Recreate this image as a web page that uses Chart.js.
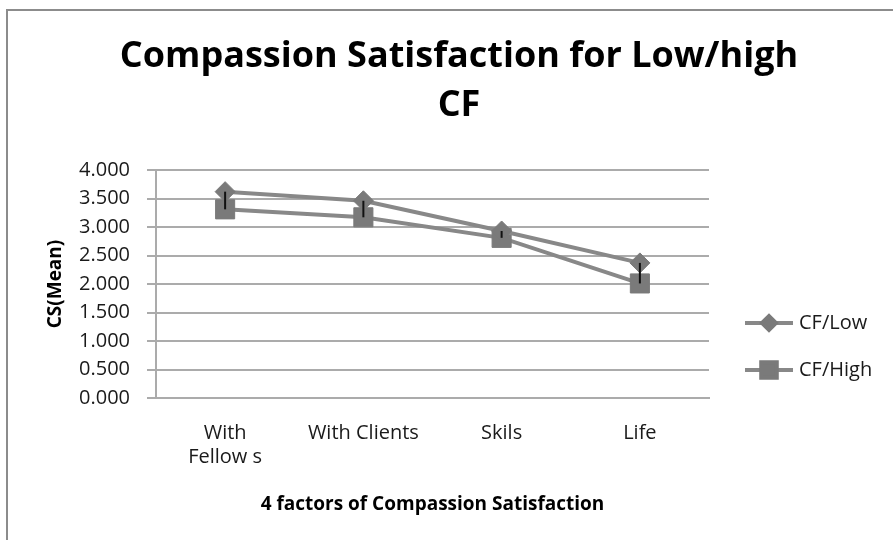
<!DOCTYPE html>
<html>
<head>
<meta charset="utf-8">
<script src="https://cdn.jsdelivr.net/npm/chart.js@4.4.1/dist/chart.umd.min.js"></script>
<style>
    body { margin: 0; background: #fff; }
    canvas { display: block; }
</style>
</head>
<body>
<canvas id="csChart" width="893" height="540"></canvas>
<script>
const titleLines = ["Compassion Satisfaction for Low/high", "CF"];
const categories = [["With", "Fellow s"], "With Clients", "Skils", "Life"];
const seriesNames = ["CF/Low", "CF/High"];
const cfLow = [3.62, 3.46, 2.93, 2.37];
const cfHigh = [3.31, 3.17, 2.81, 2.01];
const yTickValues = [0, 0.5, 1, 1.5, 2, 2.5, 3, 3.5, 4];
const xAxisTitle = "4 factors of Compassion Satisfaction";
const yAxisTitle = "CS(Mean)";

const FONT = "'Open Sans', 'DejaVu Sans', sans-serif";
const TEXT = "#1a1a1a";
const LINE = "#888888";
const MARK = "#7a7a7a";
const GRID = "#ababab";

// outer frame of the chart object (only top and left edges show)
const framePlugin = {
    id: "frame",
    beforeDraw(chart) {
        const ctx = chart.ctx;
        ctx.save();
        ctx.fillStyle = "#fff";
        ctx.fillRect(0, 0, chart.width, chart.height);
        ctx.strokeStyle = "#8c8c8c";
        ctx.lineWidth = 2;
        ctx.strokeRect(7, 10, chart.width + 20, chart.height + 20);
        ctx.restore();
    },
};

const titlePlugin = {
    id: "bigTitle",
    afterDraw(chart) {
        const ctx = chart.ctx;
        ctx.save();
        ctx.fillStyle = "#000";
        ctx.font = "bold 36px " + FONT;
        ctx.textAlign = "center";
        ctx.textBaseline = "alphabetic";
        ctx.fillText(titleLines[0], 459, 67);
        ctx.fillText(titleLines[1], 459, 116);
        ctx.restore();
    },
};

// excel style high-low lines between the two series
const highLowPlugin = {
    id: "highLow",
    afterDatasetsDraw(chart) {
        const ctx = chart.ctx;
        const x = chart.scales.x;
        const y = chart.scales.y;
        ctx.save();
        ctx.strokeStyle = "#111";
        ctx.lineWidth = 2;
        cfLow.forEach((v, i) => {
            const px = x.getPixelForValue(i);
            ctx.beginPath();
            ctx.moveTo(px, y.getPixelForValue(v));
            ctx.lineTo(px, y.getPixelForValue(cfHigh[i]));
            ctx.stroke();
        });
        ctx.restore();
    },
};

const legendPlugin = {
    id: "sideLegend",
    afterDraw(chart) {
        const ctx = chart.ctx;
        const rows = [323, 370];
        const sizes = [7, 11];
        ctx.save();
        chart.data.datasets.forEach((ds, i) => {
            const yy = rows[i];
            ctx.strokeStyle = LINE;
            ctx.lineWidth = 4;
            ctx.beginPath();
            ctx.moveTo(745, yy);
            ctx.lineTo(793, yy);
            ctx.stroke();
            ctx.fillStyle = MARK;
            ctx.strokeStyle = MARK;
            Chart.helpers.drawPoint(ctx, {
                pointStyle: ds.pointStyle,
                radius: sizes[i],
                rotation: 0,
                borderWidth: 1,
            }, 769, yy);
            ctx.fillStyle = TEXT;
            ctx.font = "20px " + FONT;
            ctx.textAlign = "left";
            ctx.textBaseline = "middle";
            ctx.fillText(ds.label, 799, yy);
        });
        ctx.restore();
    },
};

const ctx = document.getElementById("csChart").getContext("2d");
new Chart(ctx, {
    type: "line",
    data: {
        labels: categories,
        datasets: [
            {
                label: seriesNames[0],
                data: cfLow,
                borderColor: LINE,
                borderWidth: 4,
                pointStyle: "rectRot",
                pointRadius: 10,
                pointBackgroundColor: MARK,
                pointBorderColor: MARK,
                pointBorderWidth: 1,
                tension: 0,
            },
            {
                label: seriesNames[1],
                data: cfHigh,
                borderColor: LINE,
                borderWidth: 4,
                pointStyle: "rect",
                pointRadius: 13.5,
                pointBackgroundColor: MARK,
                pointBorderColor: MARK,
                pointBorderWidth: 1,
                tension: 0,
            },
        ],
    },
    options: {
        responsive: false,
        animation: false,
        layout: {
            padding: { top: 170, left: 44, right: 184, bottom: 24 },
        },
        plugins: {
            legend: { display: false },
            title: { display: false },
            tooltip: { enabled: false },
        },
        scales: {
            x: {
                offset: true,
                grid: { display: false, drawTicks: false },
                border: { color: GRID, width: 2 },
                ticks: {
                    color: TEXT,
                    font: { family: FONT, size: 20, lineHeight: 1.2 },
                    padding: 23,
                    maxRotation: 0,
                    autoSkip: false,
                },
                title: {
                    display: true,
                    text: xAxisTitle,
                    color: "#000",
                    font: { family: FONT, size: 19, weight: "bold", lineHeight: 1.2 },
                    padding: 0,
                },
                afterFit: (scale) => {
                    scale.height = 118;
                },
            },
            y: {
                min: 0,
                max: 4,
                afterBuildTicks: (scale) => {
                    scale.ticks = yTickValues.map((v) => ({ value: v }));
                },
                ticks: {
                    color: TEXT,
                    font: { family: FONT, size: 20 },
                    padding: 17,
                    callback: (v) => Number(v).toFixed(3),
                },
                grid: { color: GRID, lineWidth: 2, tickLength: 9 },
                border: { color: GRID, width: 2 },
                title: {
                    display: true,
                    text: yAxisTitle,
                    color: "#000",
                    font: { family: FONT, size: 19, weight: "bold", lineHeight: 1.2 },
                    padding: 0,
                },
                afterFit: (scale) => {
                    scale.width = 112;
                },
            },
        },
    },
    plugins: [framePlugin, titlePlugin, highLowPlugin, legendPlugin],
});
</script>
</body>
</html>
